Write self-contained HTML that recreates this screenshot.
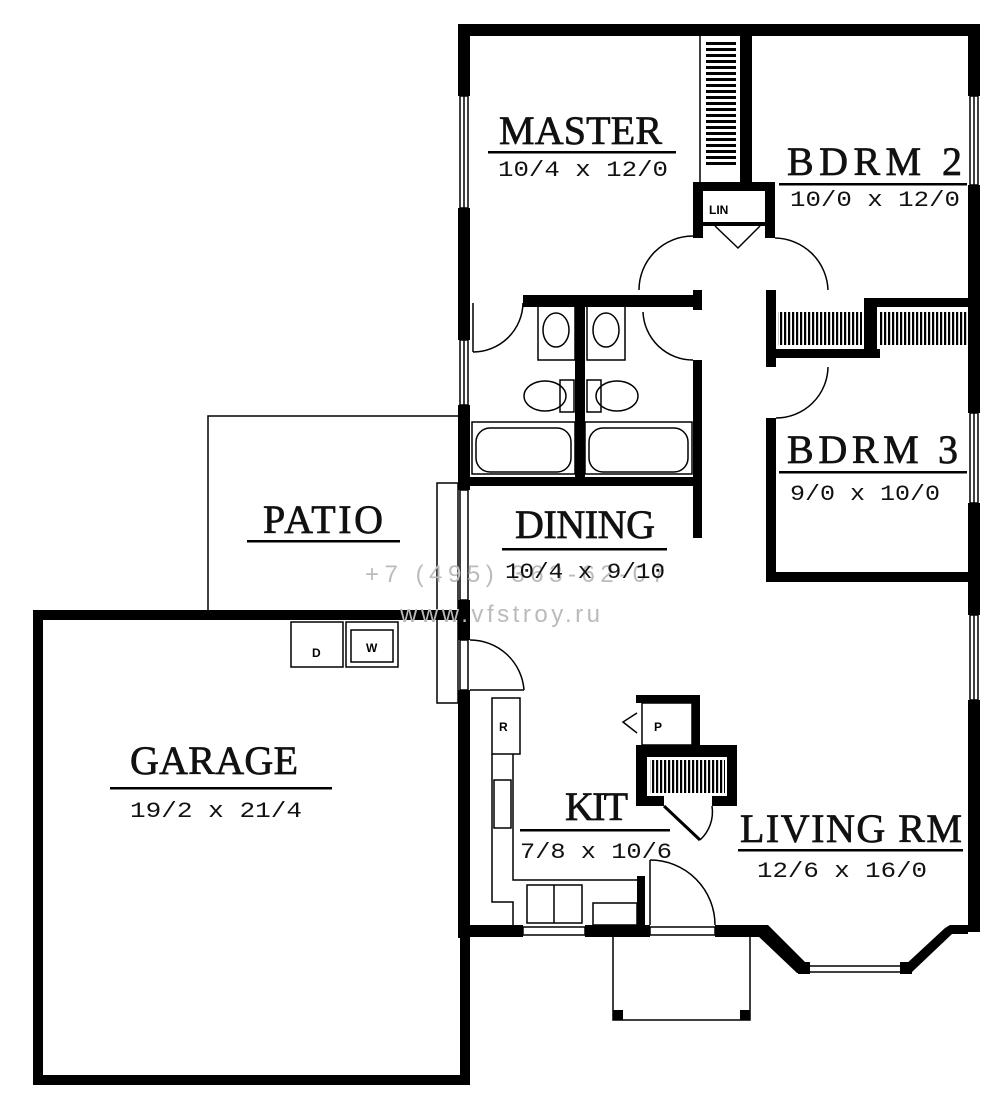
<!DOCTYPE html>
<html><head><meta charset="utf-8"><style>
html,body{margin:0;padding:0;background:#fff;}
svg{display:block;}
.t{font-family:"Liberation Serif",serif;font-size:40px;fill:#111;stroke:#111;stroke-width:0.7;}
.d{font-family:"Liberation Mono",monospace;font-size:22px;fill:#111;}
</style></head><body>
<svg width="1000" height="1113" viewBox="0 0 1000 1113" xmlns="http://www.w3.org/2000/svg">
<g fill="#000">
<rect x="458" y="24" width="522" height="12"/>
<rect x="458" y="24" width="12" height="72"/>
<rect x="458" y="208" width="12" height="132"/>
<rect x="458" y="405" width="12" height="85"/>
<rect x="458" y="600" width="12" height="40"/>
<rect x="458" y="690" width="12" height="248"/>
<rect x="968" y="24" width="12" height="72"/>
<rect x="968" y="185" width="12" height="228"/>
<rect x="968" y="503" width="12" height="112"/>
<rect x="968" y="700" width="12" height="232"/>
<rect x="458" y="925" width="65" height="12"/>
<rect x="585" y="925" width="65" height="12"/>
<rect x="715" y="925" width="48" height="12"/>
<rect x="33" y="610" width="437" height="10"/>
<rect x="33" y="610" width="10" height="475"/>
<rect x="33" y="1075" width="437" height="10"/>
<rect x="460" y="925" width="10" height="160"/>
<rect x="740" y="36" width="12" height="148"/>
<rect x="693" y="182" width="82" height="9"/>
<rect x="693" y="182" width="10" height="56"/>
<rect x="765" y="182" width="10" height="56"/>
<rect x="703" y="222" width="62" height="4"/>
<rect x="523" y="295" width="179" height="12"/>
<rect x="693" y="290" width="9" height="20"/>
<rect x="575" y="295" width="10" height="190"/>
<rect x="693" y="360" width="9" height="178"/>
<rect x="458" y="477" width="244" height="9"/>
<rect x="766" y="290" width="10" height="77"/>
<rect x="864" y="298" width="116" height="9"/>
<rect x="864" y="298" width="13" height="59"/>
<rect x="766" y="349" width="114" height="9"/>
<rect x="766" y="418" width="10" height="164"/>
<rect x="766" y="572" width="212" height="10"/>
<rect x="636" y="695" width="64" height="8"/>
<rect x="692" y="695" width="8" height="55"/>
<rect x="636" y="745" width="101" height="12"/>
<rect x="636" y="745" width="11" height="61"/>
<rect x="727" y="745" width="10" height="61"/>
<rect x="636" y="796" width="28" height="10"/>
<rect x="712" y="796" width="25" height="10"/>
<rect x="637" y="876" width="8" height="50"/>
<polygon points="760,925 768,925 808,965 805,973 797,973 758,936"/>
<polygon points="950,925 968,925 968,934 952,934 912,972 904,966 945,928"/>
<rect x="798" y="962" width="12" height="12"/>
<rect x="900" y="962" width="12" height="12"/>
<rect x="613" y="1010" width="10" height="10"/>
<rect x="740" y="1010" width="10" height="10"/>
</g>
<g fill="none" stroke="#000" stroke-width="1.5">
<rect x="460" y="96" width="8" height="112"/><line x1="464" y1="96" x2="464" y2="208"/>
<rect x="460" y="340" width="8" height="65"/><line x1="464" y1="340" x2="464" y2="405"/>
<rect x="460" y="490" width="8" height="110"/>
<rect x="460" y="640" width="8" height="50"/>
<rect x="970" y="96" width="8" height="89"/><line x1="974" y1="96" x2="974" y2="185"/>
<rect x="970" y="413" width="8" height="90"/><line x1="974" y1="413" x2="974" y2="503"/>
<rect x="970" y="615" width="8" height="85"/><line x1="974" y1="615" x2="974" y2="700"/>
<rect x="523" y="927" width="62" height="8"/><rect x="650" y="927" width="65" height="8"/>
<line x1="768" y1="933" x2="802" y2="968"/><line x1="810" y1="966" x2="900" y2="966"/><line x1="810" y1="972" x2="900" y2="972"/>
<line x1="910" y1="968" x2="948" y2="932"/>
<polyline points="208,610 208,416 458,416"/>
<rect x="437" y="483" width="21" height="220"/>
<polyline points="613,937 613,1020 750,1020 750,937"/>
<line x1="700" y1="36" x2="700" y2="184"/>
<path d="M693,236 A54,54 0 0 0 639,290"/>
<path d="M643,312 A50,50 0 0 0 693,360"/>
<path d="M775,238 A54,54 0 0 1 828,290"/>
<path d="M828,367 A52,52 0 0 1 776,418"/>
<path d="M523,303 A50,50 0 0 1 473,352"/><line x1="473" y1="303" x2="473" y2="352"/>
<path d="M470,640 A54,54 0 0 1 524,690"/><line x1="470" y1="690" x2="524" y2="690"/>
<path d="M650,860 A65,65 0 0 1 715,925"/><line x1="650" y1="860" x2="650" y2="925"/>
<line x1="664" y1="806" x2="700" y2="840" stroke-width="3"/><path d="M700,840 A38,38 0 0 0 712,806"/>
<polyline points="637,713 623,722 637,733"/>
<polyline points="715,226 738,248 760,226"/>
<rect x="538" y="300" width="37" height="60"/><rect x="587" y="300" width="38" height="60"/>
<ellipse cx="556" cy="330" rx="13" ry="17"/><ellipse cx="606" cy="330" rx="13" ry="17"/>
<ellipse cx="545" cy="396" rx="21" ry="15"/><rect x="560" y="380" width="14" height="32"/>
<ellipse cx="617" cy="396" rx="21" ry="15"/><rect x="587" y="380" width="14" height="32"/>
<rect x="472" y="422" width="103" height="52"/><rect x="476" y="428" width="95" height="44" rx="14"/>
<rect x="585" y="422" width="107" height="52"/><rect x="589" y="428" width="99" height="44" rx="14"/>
<rect x="492" y="698" width="28" height="56"/>
<polyline points="492,754 492,902 513,902 513,925"/>
<polyline points="513,754 513,880 637,880"/>
<rect x="494" y="780" width="17" height="48"/>
<rect x="527" y="885" width="55" height="38"/><line x1="554" y1="885" x2="554" y2="923"/>
<rect x="593" y="903" width="44" height="22"/>
<rect x="642" y="703" width="50" height="42"/>
<rect x="291" y="622" width="52" height="45"/><rect x="346" y="622" width="52" height="45"/><rect x="351" y="630" width="42" height="32"/>
</g>
<defs><pattern id="hv" width="4" height="6" patternUnits="userSpaceOnUse"><rect width="4" height="3" fill="#000"/></pattern>
<pattern id="hh" width="4" height="6" patternUnits="userSpaceOnUse"><rect width="2.2" height="6" fill="#000"/></pattern></defs>
<rect x="706" y="40" width="30" height="128" fill="url(#hv)"/>
<rect x="778" y="312" width="84" height="33" fill="url(#hh)"/>
<rect x="879" y="312" width="88" height="33" fill="url(#hh)"/>
<rect x="650" y="760" width="75" height="33" fill="url(#hh)"/>
<g fill="#000">
<rect x="488" y="151" width="188" height="2.5"/>
<rect x="779" y="183" width="188" height="2.5"/>
<rect x="779" y="471" width="188" height="2.5"/>
<rect x="247" y="540" width="153" height="2.5"/>
<rect x="502" y="548" width="165" height="2.5"/>
<rect x="110" y="787" width="222" height="2.5"/>
<rect x="520" y="829" width="150" height="2.5"/>
<rect x="738" y="849" width="225" height="2.5"/>
</g>
<g font-family="Liberation Sans,sans-serif" fill="#bbb">
<text x="365" y="582" font-size="24" textLength="300">+7 (495) 363-62-07</text>
<text x="400" y="622" font-size="24" textLength="200">www.vfstroy.ru</text>
</g>
<text class="t" x="499" y="144" textLength="163">MASTER</text>
<text class="d" x="498" y="176" textLength="170" lengthAdjust="spacingAndGlyphs">10/4 x 12/0</text>
<text class="t" x="787" y="175" textLength="175">BDRM  2</text>
<text class="d" x="790" y="206" textLength="170" lengthAdjust="spacingAndGlyphs">10/0 x 12/0</text>
<text class="t" x="787" y="463" textLength="171">BDRM  3</text>
<text class="d" x="790" y="500" textLength="150" lengthAdjust="spacingAndGlyphs">9/0 x 10/0</text>
<text class="t" x="263" y="533" textLength="120">PATIO</text>
<text class="t" x="515" y="538" textLength="140">DINING</text>
<text class="d" x="505" y="578" textLength="160" lengthAdjust="spacingAndGlyphs">10/4 x 9/10</text>
<text class="t" x="130" y="774" textLength="168">GARAGE</text>
<text class="d" x="130" y="817" textLength="172" lengthAdjust="spacingAndGlyphs">19/2 x 21/4</text>
<text class="t" x="565" y="820" textLength="63">KIT</text>
<text class="d" x="520" y="858" textLength="152" lengthAdjust="spacingAndGlyphs">7/8 x 10/6</text>
<text class="t" x="740" y="842" textLength="222">LIVING  RM</text>
<text class="d" x="757" y="877" textLength="170" lengthAdjust="spacingAndGlyphs">12/6 x 16/0</text>
<g font-family="Liberation Sans,sans-serif" font-weight="bold" font-size="12" fill="#000">
<text x="709" y="214">LIN</text><text x="312" y="657">D</text><text x="366" y="652">W</text>
<text x="499" y="731">R</text><text x="654" y="731">P</text>
</g>
</svg>
</body></html>
